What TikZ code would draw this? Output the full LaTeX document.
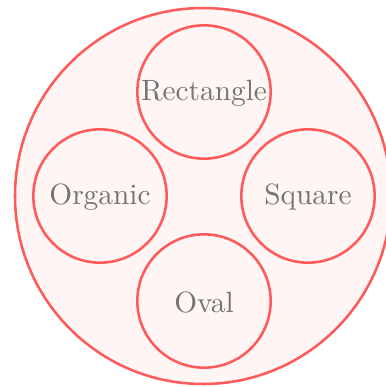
\documentclass[tikz,border=0pt]{standalone}
\usepackage{fontspec}
\newfontfamily\tenrm[Extension=.otf]{lmroman10-regular}
\begin{document}
\begin{tikzpicture}[x=0.75pt,y=-0.75pt,
  ring/.style={circle,draw={rgb,255:red,255;green,90;blue,90},fill={rgb,255:red,255;green,245;blue,245},line width=1.9pt,inner sep=0pt},
  lbl/.style={text={rgb,255:red,115;green,115;blue,115},font=\tenrm\fontsize{22}{26}\selectfont}]
\useasboundingbox (0,0) rectangle (386,387);
\node[ring,minimum size=282pt] (outer) at (203,196) {};
\node[ring,minimum size=100pt] (rect) at (204,92) {};
\node[ring,minimum size=100pt] (org) at (100,196) {};
\node[ring,minimum size=100pt] (sq) at (308,196) {};
\node[ring,minimum size=100pt] (oval) at (204,301) {};
\node[lbl] (trect) at ([yshift=-1pt]rect.center) {Rectangle};
\node[lbl] (torg) at ([yshift=-1pt]org.center) {Organic};
\node[lbl] (tsq) at ([yshift=-1pt]sq.center) {Square};
\node[lbl] (toval) at ([yshift=-1pt]oval.center) {Oval};
\end{tikzpicture}
\end{document}
